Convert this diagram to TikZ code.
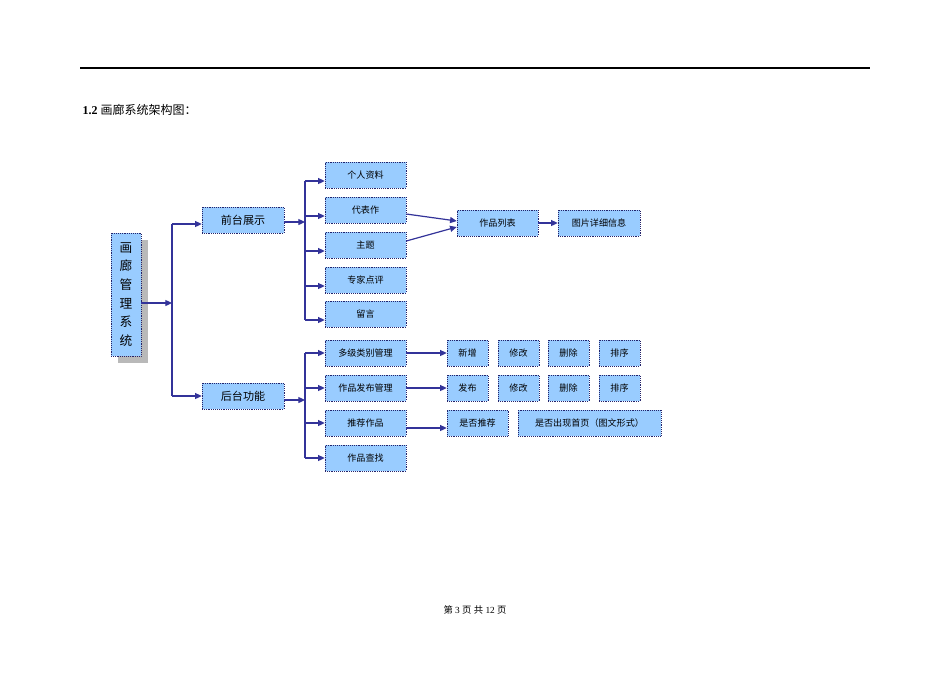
\documentclass[tikz,border=0pt]{standalone}
\usepackage{fontspec}
\setmainfont{Liberation Serif}
\newfontfamily\cjk{Noto Sans CJK SC}
\usetikzlibrary{arrows.meta}
\definecolor{boxfill}{HTML}{99CCFF}
\definecolor{lnc}{HTML}{333399}
\begin{document}
\begin{tikzpicture}[x=0.75pt,y=-0.75pt,
  box/.style={draw=lnc!70!black,densely dotted,fill=boxfill,minimum height=26*0.75pt,inner sep=0pt,font=\cjk\fontsize{6.8}{8}\selectfont},
  big/.style={box,font=\cjk\fontsize{8.3}{10}\selectfont},
  conn/.style={lnc,line width=0.9pt},
  arr/.style={conn,-{Triangle[length=5pt,width=4.5pt]}}]
\useasboundingbox (0,0) rectangle (950,672);
\draw[line width=1.2pt] (80,68) -- (870,68);
\node[anchor=west,font=\fontsize{9}{11}\selectfont] (title) at (78,110) {\textbf{1.2} {\cjk 画廊系统架构图：}};
\node[font=\fontsize{7}{9}\selectfont] (foot) at (475,610) {{\cjk 第} 3 {\cjk 页} {\cjk 共} 12 {\cjk 页}};
% root
\fill[gray!55] (118,240) rectangle (148,363);
\node[big,minimum width=30*0.75pt,minimum height=123*0.75pt,align=center,font=\cjk\fontsize{9.5}{14}\selectfont] (root) at (126,294.5) {画\\廊\\管\\理\\系\\统};
\coordinate (j0) at (172,303);
\draw[arr] (root.east |- j0) -- (j0);
\node[big,minimum width=82*0.75pt] (front) at (243,220) {前台展示};
\node[big,minimum width=82*0.75pt] (back) at (243,396) {后台功能};
\draw[conn] (172,224) -- (172,396);
\draw[arr] (172,224) -- (front.west |- 172,224);
\draw[arr] (172,396) -- (back.west);
% front children
\foreach \n/\t/\y in {a/个人资料/175,b/代表作/210,c/主题/245,d/专家点评/280,e/留言/314}{
  \node[box,minimum width=81*0.75pt] (\n) at (365.5,\y) {\t};
  \draw[arr] (305,\y+6) -- (\n.west |- 0,\y+6);
}
\coordinate (j1) at (305,222);
\draw[arr] (front.east |- j1) -- (j1);
\draw[conn] (305,181) -- (305,320);
% back children
\foreach \n/\t/\y in {f/多级类别管理/353,g/作品发布管理/388,h/推荐作品/423,i/作品查找/458}{
  \node[box,minimum width=81*0.75pt] (\n) at (365.5,\y) {\t};
}
\draw[conn] (305,353) -- (305,458);
\foreach \n/\y in {f/353,g/388,h/423,i/458}{\draw[arr] (305,\y) -- (\n.west |- 0,\y);}
\coordinate (j2) at (305,400);
\draw[arr] (back.east |- j2) -- (j2);
% works list
\node[box,minimum width=81*0.75pt] (list) at (497.5,223) {作品列表};
\node[box,minimum width=82*0.75pt] (detail) at (599,223) {图片详细信息};
\draw[arr] (b.east |- 0,214) -- (list.west |- 0,221);
\draw[arr] (c.east |- 0,241) -- (list.west |- 0,227);
\draw[arr] (list) -- (detail);
% rows
\foreach \n/\t/\x in {f1/新增/467.5,f2/修改/518.5,f3/删除/568.5,f4/排序/619.5}{
  \node[box,minimum width=41*0.75pt] (\n) at (\x,353) {\t};}
\foreach \n/\t/\x in {g1/发布/467.5,g2/修改/518.5,g3/删除/568.5,g4/排序/619.5}{
  \node[box,minimum width=41*0.75pt] (\n) at (\x,388) {\t};}
\node[box,minimum width=61*0.75pt] (h1) at (477.5,423) {是否推荐};
\node[box,minimum width=143*0.75pt] (h2) at (589.5,423) {是否出现首页（图文形式）};
\draw[arr] (f) -- (f1);
\draw[arr] (g) -- (g1);
\draw[arr] (h.east |- 0,428) -- (h1.west |- 0,428);
\end{tikzpicture}
\end{document}
